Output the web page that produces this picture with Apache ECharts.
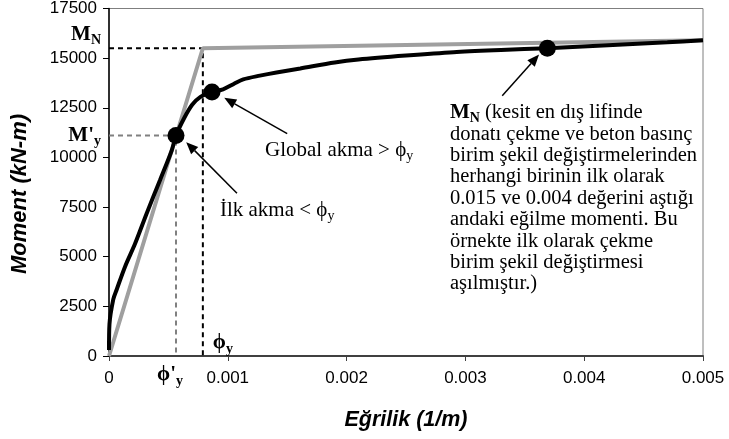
<!DOCTYPE html>
<html>
<head>
<meta charset="utf-8">
<script src="https://cdn.jsdelivr.net/npm/echarts@6/dist/echarts.min.js"></script>
<style>
  html, body { margin: 0; padding: 0; background: #fff; }
  #chart { width: 729px; height: 439px; }
</style>
</head>
<body>
<div id="chart"></div>
<script>
// Moment–curvature response of the section (curvature 1/m, moment kN-m)
const momentCurvature = [
  [0, 300], [0.000004, 1600], [0.000036, 2850], [0.000065, 3350],
  [0.000135, 4500], [0.000219, 5650], [0.000317, 7180], [0.000429, 8850],
  [0.000528, 10350], [0.000564, 11100], [0.00063, 11950], [0.0007, 12650],
  [0.00077, 13050], [0.000867, 13300], [0.00096, 13430], [0.00105, 13700],
  [0.00113, 13930], [0.00127, 14120], [0.00141, 14280], [0.00161, 14480],
  [0.0019, 14780], [0.0021, 14930], [0.0025, 15130], [0.0029, 15300],
  [0.0033, 15410], [0.00369, 15500], [0.0042, 15650], [0.0047, 15800],
  [0.005, 15900]
];

// Bilinear idealisation: elastic branch up to (ϕy, M_N), then hardening branch
const bilinear = [[0, 0], [0.00079, 15500], [0.005, 15900]];

// Yield quantities
const phiY = 0.00079;        // ϕy
const momentN = 15500;       // M_N
const phiFirstY = 0.000564;  // ϕ'y
const momentFirstY = 11100;  // M'y

// Marked states: first yield, global yield, nominal moment
const keyStates = [[0.000564, 11100], [0.000867, 13300], [0.00369, 15500]];

// Axis ranges
const xMin = 0, xMax = 0.005, xStep = 0.001;
const yMin = 0, yMax = 17500, yStep = 2500;

// Leader arrows [tail, head] in data units
const arrows = [
  [[0.001077, 8200], [0.00065, 10770]],
  [[0.00150, 11200], [0.00097, 13000]],
  [[0.00331, 13100], [0.00362, 15180]]
];

// Annotation texts
const noteFirstYield = '{t|İlk akma < ϕ}{s|y}';
const noteFirstYieldAt = [0.000934, 7350];
const noteGlobalYield = '{t|Global akma > ϕ}{s|y}';
const noteGlobalYieldAt = [0.001313, 10350];
const noteNominalLines = [
  '{b|M}{bs|N}{n| (kesit en dış lifinde}',
  '{n|donatı çekme ve beton basınç}',
  '{n|birim şekil değiştirmelerinden}',
  '{n|herhangi birinin ilk olarak}',
  '{n|0.015 ve 0.004 değerini aştığı}',
  '{n|andaki eğilme momenti. Bu}',
  '{n|örnekte ilk olarak çekme}',
  '{n|birim şekil değiştirmesi}',
  '{n|aşılmıştır.)}'
];
const noteNominalAt = [0.00287, 12250];

const serif = '"Liberation Serif", "Times New Roman", serif';
const sans = '"Liberation Sans", Arial, sans-serif';

const rich = {
  t: { fontFamily: serif, fontSize: 21, color: '#000', lineHeight: 26 },
  n: { fontFamily: serif, fontSize: 20.5, color: '#000', lineHeight: 26 },
  s: { fontFamily: serif, fontSize: 14, color: '#000', verticalAlign: 'bottom', lineHeight: 14 },
  b: { fontFamily: serif, fontSize: 21, fontWeight: 'bold', color: '#000', lineHeight: 26 },
  bs: { fontFamily: serif, fontSize: 14, fontWeight: 'bold', color: '#000', verticalAlign: 'bottom', lineHeight: 14 }
};

const chart = echarts.init(document.getElementById('chart'), null, { renderer: 'canvas' });

chart.setOption({
  animation: false,
  backgroundColor: '#fff',
  grid: {
    left: 109, right: 26, top: 7, bottom: 83,
    show: true, borderColor: '#7f7f7f', borderWidth: 1
  },
  xAxis: {
    type: 'value', min: xMin, max: xMax, interval: xStep,
    name: 'Eğrilik (1/m)', nameLocation: 'middle', nameGap: 53,
    nameTextStyle: { fontFamily: sans, fontSize: 21.5, fontWeight: 'bold', fontStyle: 'italic', color: '#000' },
    axisLine: { show: true, onZero: false, lineStyle: { color: '#404040', width: 2 } },
    axisTick: { show: true, length: 5, lineStyle: { color: '#404040', width: 1 } },
    axisLabel: {
      fontFamily: sans, fontSize: 17, color: '#000', margin: 14,
      formatter: v => (v === 0 ? '0' : v.toFixed(3))
    },
    splitLine: { show: false }
  },
  yAxis: {
    type: 'value', min: yMin, max: yMax, interval: yStep,
    axisLine: { show: true, onZero: false, lineStyle: { color: '#000', width: 1.5 } },
    axisTick: { show: true, length: 6, lineStyle: { color: '#000', width: 1 } },
    axisLabel: { fontFamily: sans, fontSize: 17, color: '#000', margin: 12, formatter: v => String(v) },
    splitLine: { show: false }
  },
  series: [
    {
      name: 'guide M_N', type: 'line', symbol: 'none', silent: true, z: 1,
      data: [[xMin, momentN], [phiY, momentN], [phiY, yMin]],
      lineStyle: { color: '#000', width: 2, type: [5, 4] }
    },
    {
      name: "guide M'y", type: 'line', symbol: 'none', silent: true, z: 1,
      data: [[xMin, momentFirstY], [phiFirstY, momentFirstY], [phiFirstY, yMin]],
      lineStyle: { color: '#808080', width: 2, type: [5, 4] }
    },
    {
      name: 'bilinear', type: 'line', symbol: 'none', z: 2,
      data: bilinear,
      lineStyle: { color: '#9f9f9f', width: 4 }
    },
    {
      name: 'moment-curvature', type: 'line', symbol: 'none', smooth: 0.3, z: 3,
      data: momentCurvature,
      lineStyle: { color: '#000', width: 4 }
    },
    {
      name: 'states', type: 'scatter', symbol: 'circle', symbolSize: 17, z: 5,
      data: keyStates,
      itemStyle: { color: '#000', opacity: 1 }
    }
  ]
});

// Annotations, positioned through the chart's coordinate system
const px = p => chart.convertToPixel({ gridIndex: 0 }, p);
const graphics = [];

function addText(x, y, text, align, vAlign) {
  graphics.push({
    type: 'text', x: x, y: y, z: 10, silent: true,
    style: { text: text, rich: rich, align: align || 'left', verticalAlign: vAlign || 'middle' }
  });
}

// Leader arrows with filled heads
arrows.forEach(([tail, head]) => {
  const a = px(tail), b = px(head);
  const dx = b[0] - a[0], dy = b[1] - a[1];
  const len = Math.hypot(dx, dy);
  const ux = dx / len, uy = dy / len;
  const hl = 12, hw = 5;
  const bx = b[0] - ux * hl, by = b[1] - uy * hl;
  graphics.push({
    type: 'line', z: 9, silent: true,
    shape: { x1: a[0], y1: a[1], x2: bx, y2: by },
    style: { stroke: '#000', lineWidth: 1.5 }
  });
  graphics.push({
    type: 'polygon', z: 9, silent: true,
    shape: { points: [[b[0], b[1]], [bx - uy * hw, by + ux * hw], [bx + uy * hw, by - ux * hw]] },
    style: { fill: '#000' }
  });
});

const pFirst = px(noteFirstYieldAt);
addText(pFirst[0], pFirst[1], noteFirstYield);
const pGlobal = px(noteGlobalYieldAt);
addText(pGlobal[0], pGlobal[1], noteGlobalYield);
const pNom = px(noteNominalAt);
noteNominalLines.forEach((line, i) => addText(pNom[0], pNom[1] + i * 21.4, line));

// Axis-side symbols
const pMN = px([xMin, momentN]);
addText(pMN[0] - 8, pMN[1] - 14, '{b|M}{bs|N}', 'right');
const pMy = px([xMin, momentFirstY]);
addText(pMy[0] - 8, pMy[1], "{b|M'}{bs|y}", 'right');
const pPhiFirst = px([phiFirstY, yMin]);
addText(pPhiFirst[0] + 7, pPhiFirst[1] + 19, "{b|ϕ'}{bs|y}", 'right');
const pPhi = px([phiY, yMin]);
addText(pPhi[0] + 10, pPhi[1] - 13, '{b|ϕ}{bs|y}', 'left');

// Vertical axis title
graphics.push({
  type: 'text', x: 20, y: 194, rotation: Math.PI / 2, z: 10, silent: true,
  style: {
    text: 'Moment (kN-m)', align: 'center', verticalAlign: 'middle',
    fontFamily: sans, fontSize: 22, fontWeight: 'bold', fontStyle: 'italic', fill: '#000'
  }
});

chart.setOption({ graphic: graphics });
</script>
</body>
</html>
